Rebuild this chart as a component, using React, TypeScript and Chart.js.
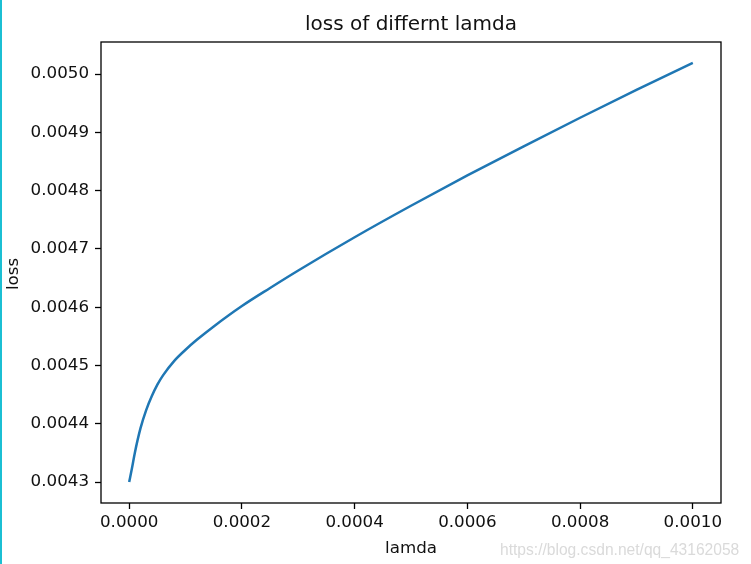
import { useEffect, useRef } from "react";
import { Chart, registerables } from "chart.js";

Chart.register(...registerables);

const lamda = [
  0, 0.000005, 0.00001, 0.00002, 0.00003, 0.00004, 0.00005, 0.00006, 0.00008,
  0.0001, 0.00012, 0.00015, 0.0002, 0.00025, 0.0003, 0.0004, 0.0005, 0.0006,
  0.0007, 0.0008, 0.0009, 0.001,
];
const loss = [
  0.0043, 0.004324, 0.00435, 0.004392, 0.004423, 0.004447, 0.004467, 0.004483,
  0.004508, 0.004527, 0.004544, 0.004567, 0.004602, 0.004633, 0.004663,
  0.00472, 0.004774, 0.004826, 0.004876, 0.004925, 0.004973, 0.005019,
];
const xTicks = [0, 0.0002, 0.0004, 0.0006, 0.0008, 0.001];
const yTicks = [0.0043, 0.0044, 0.0045, 0.0046, 0.0047, 0.0048, 0.0049, 0.005];
const titleText = "loss of differnt lamda";
const xLabel = "lamda";
const yLabel = "loss";
const watermark = "https://blog.csdn.net/qq_43162058";

const FONT = "'DejaVu Sans', sans-serif";

export default function App() {
  const ref = useRef<HTMLCanvasElement | null>(null);

  useEffect(() => {
    if (!ref.current) return;
    const textPlugin = {
      id: "mplText",
      afterDraw(chart: any) {
        const { ctx, chartArea } = chart;
        const { left, right, top, bottom } = chartArea;
        ctx.save();
        ctx.strokeStyle = "#000";
        ctx.lineWidth = 1.3;
        ctx.strokeRect(left, top, right - left, bottom - top);
        const cx = (left + right) / 2;
        ctx.fillStyle = "#111";
        ctx.textAlign = "center";
        ctx.textBaseline = "alphabetic";
        ctx.font = `20px ${FONT}`;
        ctx.fillText(titleText, cx, 30);
        ctx.font = `16.7px ${FONT}`;
        ctx.fillText(xLabel, cx, 553);
        ctx.save();
        ctx.translate(18.3, 274);
        ctx.rotate(-Math.PI / 2);
        ctx.fillText(yLabel, 0, 0);
        ctx.restore();
        ctx.font = `15.6px 'Liberation Sans', Arial, sans-serif`;
        ctx.fillStyle = "#dadada";
        ctx.textAlign = "left";
        ctx.fillText(watermark, 500, 555);
        ctx.restore();
      },
    };

    const chart = new Chart(ref.current, {
      type: "line",
      data: {
        datasets: [
          {
            data: lamda.map((x, i) => ({ x, y: loss[i] })),
            borderColor: "#1f77b4",
            borderWidth: 2.5,
            pointRadius: 0,
            cubicInterpolationMode: "monotone",
            fill: false,
          },
        ],
      },
      options: {
        responsive: false,
        animation: false,
        devicePixelRatio: 1,
        layout: { padding: { top: 42, right: 30, left: 0, bottom: 0 } },
        plugins: {
          legend: { display: false },
          tooltip: { enabled: false },
          title: { display: false },
        },
        scales: {
          x: {
            type: "linear",
            min: -0.00005,
            max: 0.00105,
            afterBuildTicks: (s: any) => {
              s.ticks = xTicks.map((v) => ({ value: v }));
            },
            afterFit: (s: any) => {
              s.height = 61;
            },
            ticks: {
              callback: (v: any) => Number(v).toFixed(4),
              font: { family: FONT, size: 16.7 },
              color: "#111",
              padding: 4,
              maxRotation: 0,
              autoSkip: false,
            },
            grid: {
              drawOnChartArea: false,
              drawTicks: true,
              tickLength: 6,
              tickColor: "#000",
              tickWidth: 1.3,
            },
            border: { display: false },
          },
          y: {
            type: "linear",
            min: 0.00426405,
            max: 0.00505495,
            afterBuildTicks: (s: any) => {
              s.ticks = yTicks.map((v) => ({ value: v }));
            },
            afterFit: (s: any) => {
              s.width = 101;
            },
            ticks: {
              callback: (v: any) => Number(v).toFixed(4),
              font: { family: FONT, size: 16.7 },
              color: "#111",
              padding: 6,
              autoSkip: false,
            },
            grid: {
              drawOnChartArea: false,
              drawTicks: true,
              tickLength: 6,
              tickColor: "#000",
              tickWidth: 1.3,
            },
            border: { display: false },
          },
        },
      },
      plugins: [textPlugin],
    } as any);
    return () => chart.destroy();
  }, []);

  return (
    <div
      style={{
        position: "fixed",
        left: 0,
        top: 0,
        width: 751,
        height: 564,
        background: "#fff",
      }}
    >
      <canvas
        ref={ref}
        width={751}
        height={564}
        style={{ position: "absolute", left: 0, top: 0, width: 751, height: 564 }}
      />
      <div
        style={{
          position: "absolute",
          left: 0,
          top: 0,
          width: 2,
          height: 564,
          background: "#1bbfd3",
        }}
      />
    </div>
  );
}
